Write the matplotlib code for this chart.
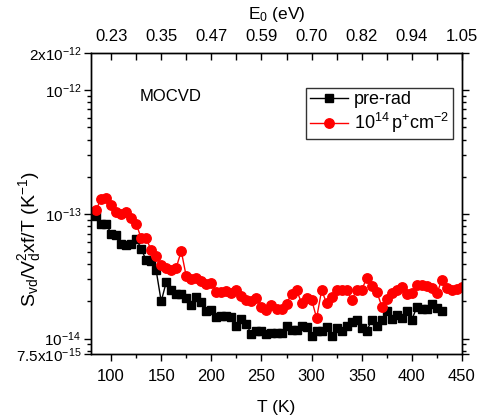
import matplotlib
matplotlib.use('Agg')
import matplotlib.pyplot as plt
from matplotlib.ticker import LogLocator, NullFormatter, MultipleLocator

plt.rcParams['font.family'] = ['Liberation Sans', 'DejaVu Sans']
plt.rcParams['mathtext.fontset'] = 'custom'
plt.rcParams['mathtext.rm'] = 'Liberation Sans'
plt.rcParams['mathtext.it'] = 'Liberation Sans:italic'

# temperature (K)
T_pre = [85, 90, 95, 100, 105, 110, 115, 120, 125, 130, 135, 140, 145, 150, 155,
         160, 165, 170, 175, 180, 185, 190, 195, 200, 205, 210, 215, 220, 225, 230,
         235, 240, 245, 250, 255, 260, 265, 270, 275, 280, 285, 290, 295, 300, 305,
         310, 315, 320, 325, 330, 335, 340, 345, 350, 355, 360, 365, 370, 375, 380,
         385, 390, 395, 400, 405, 410, 415, 420, 425, 430]
# noise, units of 1e-14 1/K
S_pre = [9.69, 8.41, 8.41, 6.99, 6.77, 5.80, 5.62, 5.80, 6.37, 5.29, 4.26, 4.18, 3.53, 1.99, 2.84,
         2.47, 2.29, 2.29, 2.13, 1.87, 2.15, 1.96, 1.68, 1.71, 1.48, 1.53, 1.53, 1.48, 1.26, 1.44,
         1.30, 1.08, 1.16, 1.15, 1.09, 1.10, 1.11, 1.10, 1.26, 1.18, 1.18, 1.26, 1.23, 1.04, 1.15,
         1.15, 1.23, 1.04, 1.21, 1.15, 1.26, 1.35, 1.40, 1.21, 1.16, 1.40, 1.27, 1.40, 1.68, 1.44,
         1.55, 1.46, 1.66, 1.42, 1.79, 1.74, 1.74, 1.91, 1.77, 1.68]

T_rad = [85, 90, 95, 100, 105, 110, 115, 120, 125, 130, 135, 140, 145, 150, 155,
         160, 165, 170, 175, 180, 185, 190, 195, 200, 205, 210, 215, 220, 225, 230,
         235, 240, 245, 250, 255, 260, 265, 270, 275, 280, 285, 290, 295, 300, 305,
         310, 315, 320, 325, 330, 335, 340, 345, 350, 355, 360, 365, 370, 375, 380,
         385, 390, 395, 400, 405, 410, 415, 420, 425, 430, 435, 440, 445, 450]
S_rad = [10.77, 13.38, 13.63, 11.82, 10.43, 10.13, 10.43, 9.41, 8.41, 6.44, 6.44, 5.13, 4.58, 3.93, 3.69,
         3.53, 3.72, 5.06, 3.16, 3.03, 3.09, 2.90, 2.73, 2.81, 2.39, 2.39, 2.41, 2.34, 2.44, 2.18,
         2.05, 2.00, 2.13, 1.79, 1.71, 1.85, 1.74, 1.74, 1.91, 2.29, 2.44, 1.94, 2.11, 2.06, 1.46,
         2.44, 1.93, 2.15, 2.44, 2.44, 2.48, 2.05, 2.44, 2.47, 3.06, 2.63, 2.39, 1.81, 2.09, 2.32,
         2.44, 2.59, 2.29, 2.32, 2.68, 2.71, 2.63, 2.54, 2.32, 2.97, 2.56, 2.47, 2.52, 2.59]

bottom_ticks = [100, 150, 200, 250, 300, 350, 400, 450]
e0_labels = ['0.23', '0.35', '0.47', '0.59', '0.70', '0.82', '0.94', '1.05']
y_ticks = [7.5e-15, 1e-14, 1e-13, 1e-12, 2e-12]
y_labels = [r'$\mathregular{7.5x10^{-15}}$', r'$\mathregular{10^{-14}}$',
            r'$\mathregular{10^{-13}}$', r'$\mathregular{10^{-12}}$',
            r'$\mathregular{2x10^{-12}}$']

fig = plt.figure(figsize=(4.79, 4.17), dpi=100)
ax = fig.add_axes([0.19, 0.151, 0.7745, 0.7226])

ax.plot(T_pre, [s * 1e-14 for s in S_pre], '-s', color='black', lw=1,
        ms=6, label='pre-rad')
ax.plot(T_rad, [s * 1e-14 for s in S_rad], '-o', color='red', lw=1,
        ms=6.8, label=r'$\mathregular{10^{14}\,p^{+}cm^{-2}}$')

ax.set_yscale('log')
ax.set_xlim(80, 450)
ax.set_ylim(7.5e-15, 2e-12)
ax.set_xticks(bottom_ticks)
ax.xaxis.set_minor_locator(MultipleLocator(25))
ax.set_yticks(y_ticks)
ax.set_yticklabels(y_labels)
ax.yaxis.set_minor_locator(LogLocator(base=10, subs=range(2, 10)))
ax.yaxis.set_minor_formatter(NullFormatter())

ax.tick_params(axis='both', which='major', direction='out', length=5, width=1)
ax.tick_params(axis='both', which='minor', direction='out', length=3, width=1)
ax.tick_params(axis='x', which='major', labelsize=12, pad=5.5)
ax.tick_params(axis='y', which='both', right=True)
ax.tick_params(axis='y', which='major', labelsize=11, pad=2)

ax.set_xlabel('T (K)', fontsize=12.5, labelpad=12)
ax.set_ylabel(r'$\mathregular{S_{vd}/V_d^2xf/T\ (K^{-1})}$', fontsize=14)
ax.yaxis.set_label_coords(-0.13, 0.38)

top = ax.twiny()
top.set_xlim(ax.get_xlim())
top.set_xticks(bottom_ticks)
top.set_xticklabels(e0_labels)
top.xaxis.set_minor_locator(MultipleLocator(25))
top.tick_params(axis='x', which='both', direction='in', length=5, width=1,
                labelsize=12, pad=6.5)
top.set_xlabel(r'$\mathregular{E_0}$ (eV)', fontsize=12.5, labelpad=7)

for a in (ax, top):
    for sp in a.spines.values():
        sp.set_linewidth(1)

ax.text(0.132, 0.855, 'MOCVD', transform=ax.transAxes, fontsize=12,
        va='center', ha='left')

leg = ax.legend(loc='upper right', bbox_to_anchor=(0.976, 0.884), fontsize=13,
                frameon=True, fancybox=False, handlelength=2.1, borderpad=0.2,
                labelspacing=0.15, handletextpad=0.35, borderaxespad=0)
leg.get_frame().set_edgecolor('black')
leg.get_frame().set_linewidth(1)

fig.savefig('out.png', dpi=100)
